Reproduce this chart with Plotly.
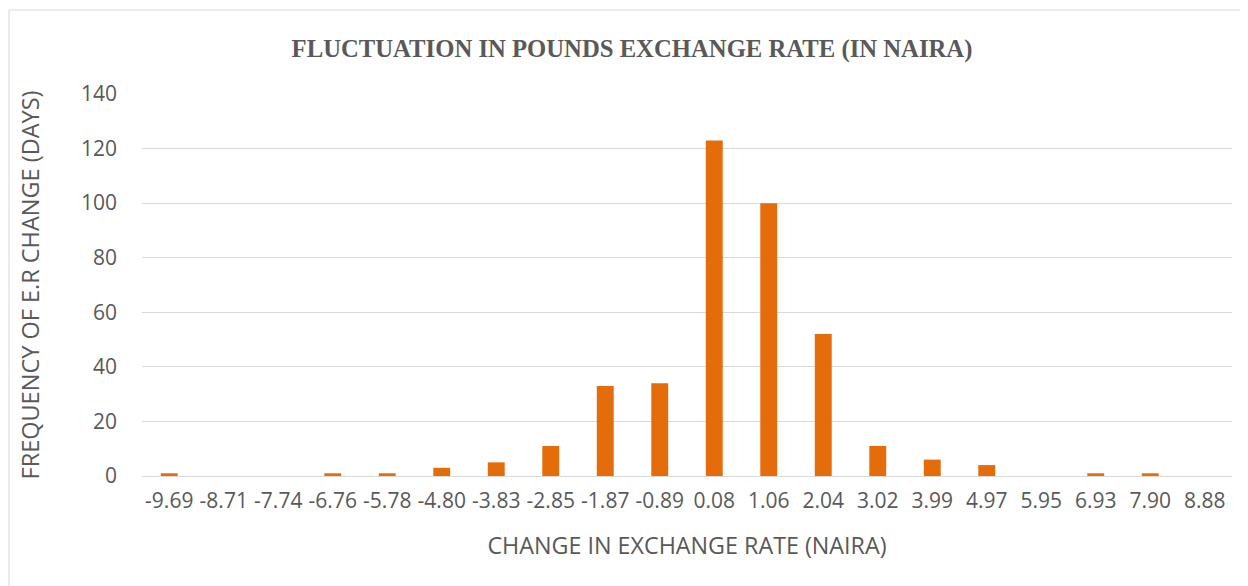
import plotly.graph_objects as go

categories = ["-9.69", "-8.71", "-7.74", "-6.76", "-5.78", "-4.80", "-3.83", "-2.85", "-1.87", "-0.89",
              "0.08", "1.06", "2.04", "3.02", "3.99", "4.97", "5.95", "6.93", "7.90", "8.88"]
frequency = [1, 0, 0, 1, 1, 3, 5, 11, 33, 34, 123, 100, 52, 11, 6, 4, 0, 1, 1, 0]

# page has an 8px body margin, so the figure is laid out 8px in from the page edge
OFF = 8
W, H = 1248 - OFF, 586 - OFF
L, R, T, B = 142 - OFF, 16, 94 - OFF, 110
pw, ph = W - L - R, H - T - B

text_color = "#595959"
fig = go.Figure(go.Bar(x=categories, y=frequency, marker=dict(color="#E46C0A", line=dict(width=0)),
                       hoverinfo="x+y"))

fig.update_layout(
    width=W, height=H,
    margin=dict(l=L, r=R, t=T, b=B),
    plot_bgcolor="white", paper_bgcolor="white",
    bargap=0.69,
    showlegend=False,
    font=dict(family="Open Sans, Lato, sans-serif", color=text_color, size=21),
    title=dict(text="<b>FLUCTUATION IN POUNDS EXCHANGE RATE (IN NAIRA)</b>",
               font=dict(family="Liberation Serif, DejaVu Serif, serif", size=24.7, color=text_color),
               x=(632 - 142) / pw, xref="paper", xanchor="center",
               y=1 - (48 - OFF) / H, yref="container", yanchor="middle"),
    xaxis=dict(type="category", showgrid=False, showline=True, linecolor="#D9D9D9", linewidth=1,
               ticks="", tickfont=dict(size=21), ticklabelstandoff=6,
               title=dict(text="CHANGE IN EXCHANGE RATE (NAIRA)", font=dict(size=23.3), standoff=24)),
    yaxis=dict(range=[0, 140], dtick=20, showgrid=True, gridcolor="#D9D9D9", gridwidth=1,
               zeroline=False, showline=False, ticks="", tickfont=dict(size=21),
               ticklabelstandoff=24,
               title=dict(text="FREQUENCY OF E.R CHANGE (DAYS)", font=dict(size=23.5), standoff=34)),
    shapes=[
        dict(type="line", xref="paper", yref="paper", x0=(9 - 142) / pw, x1=(1248 - 142) / pw,
             y0=1 + (94 - 10) / ph, y1=1 + (94 - 10) / ph, line=dict(color="#D9D9D9", width=1)),
        dict(type="line", xref="paper", yref="paper", x0=(9 - 142) / pw, x1=(9 - 142) / pw,
             y0=1 + (94 - 10) / ph, y1=-(B + 20) / ph, line=dict(color="#D9D9D9", width=1)),
    ],
)

fig.write_html("out.html")
